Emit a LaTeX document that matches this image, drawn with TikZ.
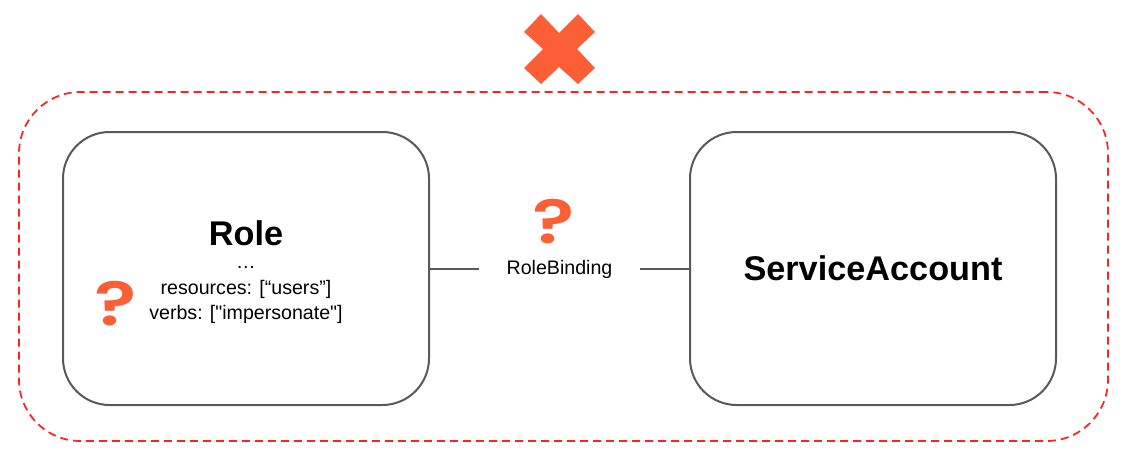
\documentclass[tikz,border=0pt]{standalone}
\usepackage{fontspec}
\setmainfont{Liberation Sans}
\newfontfamily\detailfont{Liberation Sans}
\newfontfamily\markfont{Poppins SemiBold}
\usetikzlibrary{positioning}

\definecolor{markorange}{HTML}{FC5F36}
\definecolor{boxgray}{HTML}{595959}
\definecolor{scopered}{HTML}{FF2020}

\newcommand{\qglyph}{\scalebox{1.28}[1]{?}}

\tikzset{
	roundbox/.style={draw=boxgray, line width=1.5pt, rounded corners=35pt, minimum width=274.5pt, minimum height=204.75pt, inner sep=0pt},
	scopebox/.style={draw=scopered, line width=1.3pt, rounded corners=46pt, dash pattern=on 6pt off 3.75pt, minimum width=816.75pt, minimum height=261.75pt, inner sep=0pt},
	boxline/.style={draw=boxgray, line width=1.5pt},
	qmark/.style={text=markorange, font=\markfont\fontsize{46}{46}\selectfont, inner sep=0pt},
	smalltext/.style={font=\detailfont\fontsize{14.7}{18.8}\selectfont, align=center, inner sep=0pt},
	bigtext/.style={font=\bfseries\fontsize{25.7}{30}\selectfont},
}

\begin{document}
\begin{tikzpicture}[
		x=0.75pt, y=-0.75pt,
		node distance=194.25pt,
	]
		\useasboundingbox (0,0) rectangle (1132,460);
		\node [scopebox] (scope) at (563.5,266.5) {};
		\node [roundbox] (role) at (246,268.5) {};
		\node [roundbox, right=of role, bigtext] (account) {ServiceAccount};
		\node [bigtext, inner sep=0pt] (rolename) at (246,233) {Role};
		\node [smalltext] (roledetail) at (246,295) {\dots\\resources: [“users”]\\verbs: ["impersonate"]};
		\node [smalltext, minimum width=120.75pt] (binding) at (559.5,269.5) {RoleBinding};
		\coordinate (bindingleft) at (binding.west |- role.east);
		\coordinate (bindingright) at (binding.east |- account.west);
		\node [qmark] (bindingmark) at (554,222) {\qglyph};
		\node [qmark] (rolemark) at (116,304) {\qglyph};

		\draw [boxline] (role.east) -- (bindingleft);
		\draw [boxline] (bindingright) -- (account.west);
		\fill [markorange] (541,14) -- (559,33) -- (578,14) -- (595,32) -- (577,49) -- (595,68) -- (578,84) -- (559,67) -- (541,84) -- (524,68) -- (543,49) -- (524,32) -- cycle;
	\end{tikzpicture}
\end{document}
